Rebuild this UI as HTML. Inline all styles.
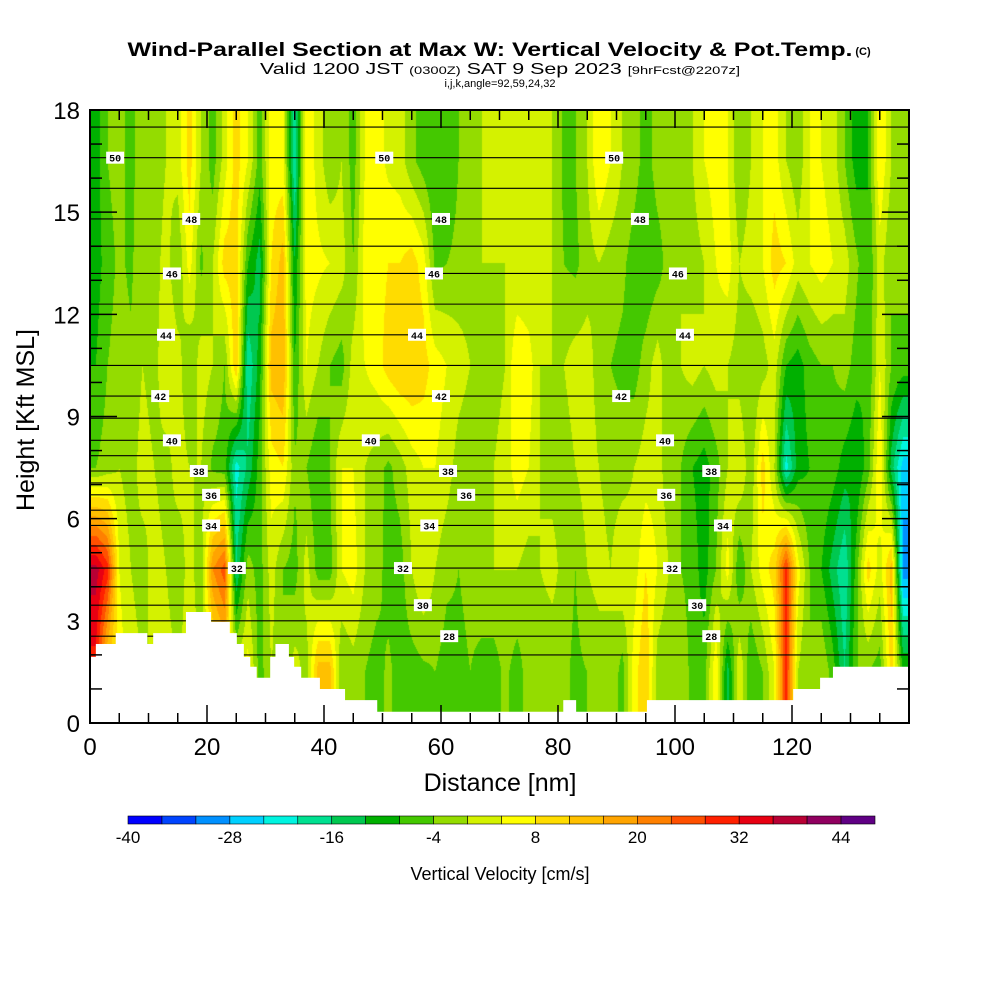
<!DOCTYPE html>
<html><head><meta charset="utf-8">
<style>
html,body{margin:0;padding:0;background:#fff;}
#wrap{position:relative;width:1000px;height:1000px;font-family:"Liberation Sans",sans-serif;}
#field{position:absolute;left:90px;top:110px;}
#ov{position:absolute;left:0;top:0;}
</style></head>
<body>
<div id="wrap">
<canvas id="field" width="819" height="613"></canvas>
<svg id="ov" width="1000" height="1000" xmlns="http://www.w3.org/2000/svg">
<text x="490" y="56" font-size="19" font-weight="bold" text-anchor="middle" textLength="725" lengthAdjust="spacingAndGlyphs">Wind-Parallel Section at Max W: Vertical Velocity &amp; Pot.Temp.</text>
<text x="863" y="55" font-size="11" font-weight="bold" text-anchor="middle">(C)</text>
<text x="500" y="74" font-size="16" text-anchor="middle" textLength="480" lengthAdjust="spacingAndGlyphs">Valid 1200 JST <tspan font-size="11">(0300Z)</tspan> SAT 9 Sep 2023 <tspan font-size="11">[9hrFcst@2207z]</tspan></text>
<text x="500" y="87" font-size="11" text-anchor="middle">i,j,k,angle=92,59,24,32</text>
<g id="contours"></g>
<g id="terrain"></g>
<g id="clabels"></g>
<rect x="90" y="110" width="819" height="613" fill="none" stroke="#000" stroke-width="2"/>
<g id="ticks"></g>
<g id="xlabels" font-size="24" text-anchor="middle"></g>
<g id="ylabels" font-size="24" text-anchor="end"></g>
<text x="500" y="791" font-size="25" text-anchor="middle">Distance [nm]</text>
<text transform="translate(34,420) rotate(-90)" font-size="25" text-anchor="middle">Height [Kft MSL]</text>
<g id="cbar"></g>
<text x="500" y="880" font-size="18" text-anchor="middle">Vertical Velocity [cm/s]</text>
</svg>
</div>
<script>
// ---- data ----
const bandHeights=[1.5,4.5,7.5,10.5,13.5,16.5];
const w015=[30,10,6,2,0,0,2,0,2,0,4,10,2,6,-6,0,-4,2,-2,14,14,-4,-2,-4,-6,-3,-6,-6,-5,-4,-6,-5,-4,-5,-6,-3,-6,-2,-4,-4,-3,-5,-4,-3,0,-6,6,12,-2,-4,0,-6,-6,8,-14,4,-8,-4,4,30,0,-4,0,-6,-16,-4,-4,-6,10,-8];
const w045=[38,30,4,0,-2,2,0,-3,2,-3,20,26,-16,-2,-6,2,-4,-6,2,-6,-6,4,6,0,-2,-6,-6,0,4,0,-3,-4,-3,-2,0,0,0,-2,0,2,-2,-4,0,2,0,4,2,8,4,0,-4,-6,-10,-4,6,-8,0,6,10,30,6,-4,-8,-14,-20,-6,10,2,14,-30];
const w075=[-4,-2,0,-2,2,0,-2,2,0,0,-5,-6,-22,-15,-6,6,8,-3,-4,-8,-4,4,4,0,-2,-5,-2,2,4,4,2,-2,-3,-2,0,2,6,4,0,-2,-2,0,2,0,-2,-2,0,2,2,-3,-4,-8,-10,-6,0,4,-3,10,0,-22,-10,-8,-4,-6,-10,-12,-6,8,-14,-26];
const w105=[-8,-4,-2,-3,0,-2,4,2,-4,2,0,-4,12,-20,-10,14,16,-8,4,0,-4,-6,2,4,6,10,12,12,10,6,4,2,0,0,-2,0,8,6,0,0,0,2,2,-2,-4,-5,-6,-2,2,-3,0,2,0,2,0,-2,-4,-2,2,-8,-10,-6,-4,-4,-2,-6,-8,4,-4,-6];
const w135=[-10,-6,-3,-5,0,-2,2,-4,6,-5,0,10,10,-8,-14,8,14,-12,6,5,4,2,-4,6,6,8,8,10,6,-5,-4,-3,-2,0,0,0,0,0,0,0,-4,-5,-2,0,-2,-3,-6,-8,-6,-2,0,-2,0,4,6,0,2,4,10,8,2,4,6,4,2,-3,-8,2,-4,-2];
const w165=[-10,-4,-2,-6,0,-3,0,2,10,0,-6,2,10,4,-6,6,5,-20,8,2,-3,0,-6,4,6,3,2,-3,-6,-8,-7,-4,-3,0,0,1,1,1,1,0,-5,-4,0,8,4,0,-2,-6,-2,-2,-2,0,4,6,4,-4,0,4,6,0,-3,4,4,2,-4,-10,-8,8,0,-2];
const bands=[w015,w045,w075,w105,w135,w165];
const terrStart=[0,1,4.4,9.8,10.8,16.4,20.7,23.9,25.1,26.3,27.4,28.5,30.8,31.7,34.0,34.9,36.1,39.3,43.6,49.1,80.9,83.1,95.2,120.2,124.8,127.0];
const terrEnd=[1,4.4,9.8,10.8,16.4,20.7,23.9,25.1,26.3,27.4,28.5,30.8,31.7,34.0,34.9,36.1,39.3,43.6,49.1,80.9,83.1,95.2,120.2,124.8,127.0,140];
const terrHeight=[1.94,2.32,2.64,2.32,2.64,3.26,2.97,2.64,2.32,1.94,1.65,1.33,1.94,2.32,1.94,1.65,1.33,1.0,0.67,0.33,0.67,0.33,0.67,1.0,1.33,1.65];
const thetaLevels=[27,28,29,30,31,32,33,34,35,36,37,38,39,40,41,42,43,44,45,46,47,48,49,50,51];
const thetaHeights=[2.0,2.55,3.0,3.46,4.0,4.55,5.2,5.8,6.25,6.7,7.05,7.4,7.85,8.3,8.95,9.6,10.5,11.4,12.3,13.2,14.0,14.8,15.7,16.6,17.5];
const labelTheta=[50,50,50,48,48,48,46,46,46,44,44,44,42,42,42,40,40,40,38,38,38,36,36,36,34,34,34,32,32,32,30,30,28,28];
const labelDist=[4.3,50.3,89.6,17.3,60,94,14,58.8,100.5,13,55.9,101.7,12,60,90.8,14,48,98.3,18.6,61.2,106.2,20.7,64.3,98.5,20.7,58,108.2,25.1,53.5,99.5,56.9,103.8,61.4,106.2];
const xTicks=[0,20,40,60,80,100,120];
const yTicks=[0,3,6,9,12,15,18];
const cbarLabels=[-40,-28,-16,-4,8,20,32,44];
const palette=['#0000ff','#0044ff','#0090ff','#00d0ff','#00f4e0','#00e090','#00c850','#00b000','#44c800','#94dc00','#d4f200','#ffff00','#ffdc00','#ffc000','#ffa400','#ff8000','#ff5000','#ff2000','#e80012','#b80034','#900060','#600084'];
// ---- scales ----
const X0=90,Y0=110,W=819,H=613,XMAX=140,YMAX=18;
const sx=d=>X0+d*W/XMAX, sy=h=>Y0+H-h*H/YMAX;
const NS='http://www.w3.org/2000/svg';
function mk(tag,attrs,parent){const e=document.createElementNS(NS,tag);for(const k in attrs)e.setAttribute(k,attrs[k]);parent.appendChild(e);return e;}
function hexRgb(h){return [parseInt(h.substr(1,2),16),parseInt(h.substr(3,2),16),parseInt(h.substr(5,2),16)];}
const pal=palette.map(hexRgb);
// ---- field ----
(function(){
 const cv=document.getElementById('field'),ctx=cv.getContext('2d');
 const img=ctx.createImageData(W,H);const nc=w015.length;
 for(let py=0;py<H;py++){
  const h=(H-py-0.5)*YMAX/H;
  let r=(h-bandHeights[0])/(bandHeights[1]-bandHeights[0]);r=Math.max(0,Math.min(bands.length-1,r));
  const r0=Math.min(bands.length-2,Math.floor(r)),fr=r-r0;
  for(let px=0;px<W;px++){
   const d=(px+0.5)*XMAX/W;
   let c=(d-1)/2;c=Math.max(0,Math.min(nc-1,c));
   const c0=Math.min(nc-2,Math.floor(c)),fc=c-c0;
   const A=bands[r0],B=bands[r0+1];
   const v=(A[c0]*(1-fc)+A[c0+1]*fc)*(1-fr)+(B[c0]*(1-fc)+B[c0+1]*fc)*fr;
   let bi=Math.floor((v+40)/4);bi=Math.max(0,Math.min(21,bi));
   const col=pal[bi],k=(py*W+px)*4;
   img.data[k]=col[0];img.data[k+1]=col[1];img.data[k+2]=col[2];img.data[k+3]=255;
  }
 }
 ctx.putImageData(img,0,0);
})();
// ---- contours ----
const cg=document.getElementById('contours');
thetaLevels.forEach((t,i)=>{
 const l=mk('line',{x1:sx(0),x2:sx(XMAX),y1:sy(thetaHeights[i]),y2:sy(thetaHeights[i]),stroke:'#000','stroke-width':1.1},cg);
 
 
});
// ---- terrain ----
const tg=document.getElementById('terrain');
let pts=[sx(0)+','+sy(0)];
terrStart.forEach((s,i)=>{pts.push(sx(s)+','+sy(terrHeight[i]));pts.push(sx(terrEnd[i])+','+sy(terrHeight[i]));});
pts.push(sx(XMAX)+','+sy(0));
const tp=mk('polygon',{points:pts.join(' '),fill:'#fff'},tg);


// ---- contour labels ----
const lg=document.getElementById('clabels');
labelTheta.forEach((t,i)=>{
 const h=thetaHeights[thetaLevels.indexOf(t)];
 const x=sx(labelDist[i]),y=sy(h);
 const g=mk('g',{},lg);
 
 
 mk('rect',{x:x-9,y:y-6,width:18,height:12,fill:'#fff'},g);
 const tx=mk('text',{x:x,y:y+4,'font-size':10,'font-weight':'bold','text-anchor':'middle','font-family':'Liberation Mono, monospace'},g);
 tx.textContent=t;
});
// ---- ticks ----
const kg=document.getElementById('ticks');
function tk(x1,y1,x2,y2){mk('line',{x1,y1,x2,y2,stroke:'#000','stroke-width':1.5},kg);}
for(let d=0;d<=XMAX;d+=5){const x=sx(d),L=(d%20===0)?18:10;tk(x,Y0+H,x,Y0+H-L);tk(x,Y0,x,Y0+L);}
for(let h=0;h<=YMAX;h+=1){const y=sy(h),L=(h%3===0)?27:12;tk(X0,y,X0+L,y);tk(X0+W,y,X0+W-L,y);}
const xl=document.getElementById('xlabels');
xTicks.forEach(v=>{const t=mk('text',{x:sx(v),y:755},xl);t.textContent=v;
 });
const yl=document.getElementById('ylabels');
yTicks.forEach(v=>{const t=mk('text',{x:80,y:sy(v)+9},yl);t.textContent=v;
 });
// ---- colorbar ----
const cb=document.getElementById('cbar');const CB0=128,CBW=747,bw=CBW/palette.length;
palette.forEach((c,i)=>{const r=mk('rect',{x:CB0+i*bw,y:816,width:bw,height:8,fill:c,stroke:'#000','stroke-width':0.6},cb);
 });
cbarLabels.forEach(v=>{const i=(v+40)/4;const t=mk('text',{x:CB0+i*bw,y:843,'font-size':17,'text-anchor':'middle'},cb);t.textContent=v;
 });
</script>
</body></html>
